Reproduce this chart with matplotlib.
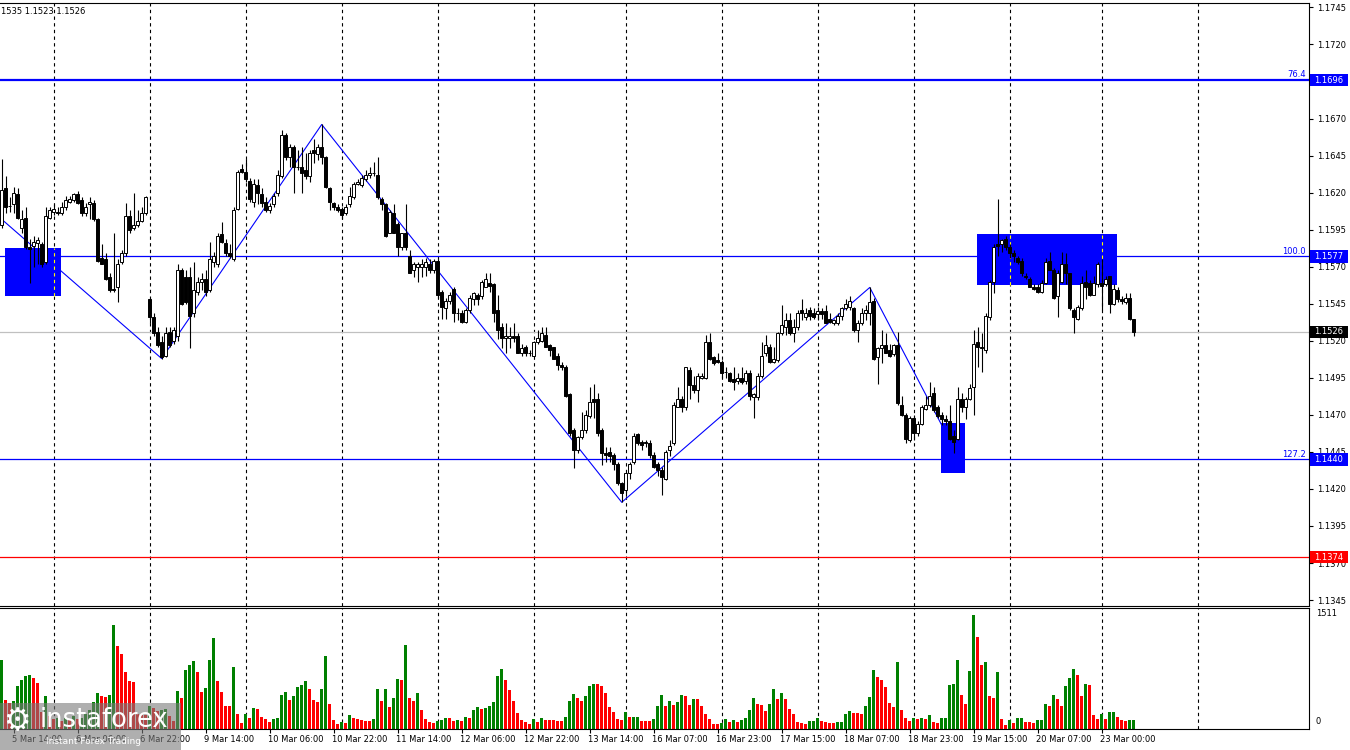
import matplotlib
matplotlib.use("Agg")
import matplotlib.pyplot as plt
import matplotlib.transforms as mtrans
from matplotlib.patches import Rectangle

W, H = 1350, 750
plt.rcParams["font.family"] = "DejaVu Sans"

# EURUSD H1, one value per bar (5 Mar 14:00 ... 23 Mar 08:00)
opens = [
    1.1598, 1.1623, 1.1611, 1.1612, 1.1619, 1.1596, 1.1603, 1.1583, 1.1584, 1.1586,
    1.1585, 1.1573, 1.1603, 1.1607, 1.1607, 1.1606, 1.1610, 1.1614, 1.1615, 1.1619,
    1.1615, 1.1606, 1.1612, 1.1613, 1.1602, 1.1576, 1.1575, 1.1563, 1.1555, 1.1556,
    1.1573, 1.1579, 1.1604, 1.1596, 1.1598, 1.1601, 1.1606, 1.1548, 1.1536, 1.1526,
    1.1519, 1.1510, 1.1526, 1.1520, 1.1523, 1.1568, 1.1563, 1.1563, 1.1539, 1.1553,
    1.1560, 1.1562, 1.1554, 1.1573, 1.1572, 1.1592, 1.1586, 1.1579, 1.1575, 1.1609,
    1.1636, 1.1634, 1.1628, 1.1614, 1.1625, 1.1619, 1.1614, 1.1608, 1.1612, 1.1620,
    1.1631, 1.1659, 1.1644, 1.1651, 1.1637, 1.1637, 1.1635, 1.1631, 1.1649, 1.1646,
    1.1651, 1.1644, 1.1623, 1.1613, 1.1610, 1.1609, 1.1606, 1.1612, 1.1617, 1.1626,
    1.1625, 1.1629, 1.1632, 1.1633, 1.1632, 1.1616, 1.1612, 1.1593, 1.1606, 1.1599,
    1.1583, 1.1593, 1.1577, 1.1568, 1.1570, 1.1570, 1.1570, 1.1572, 1.1568, 1.1574,
    1.1553, 1.1542, 1.1547, 1.1555, 1.1539, 1.1539, 1.1533, 1.1541, 1.1548, 1.1551,
    1.1550, 1.1556, 1.1559, 1.1558, 1.1541, 1.1529, 1.1522, 1.1522, 1.1523, 1.1523,
    1.1512, 1.1516, 1.1512, 1.1510, 1.1519, 1.1520, 1.1524, 1.1517, 1.1516, 1.1510,
    1.1504, 1.1502, 1.1484, 1.1460, 1.1446, 1.1455, 1.1460, 1.1469, 1.1481, 1.1481,
    1.1460, 1.1444, 1.1445, 1.1443, 1.1437, 1.1424, 1.1419, 1.1431, 1.1438, 1.1457,
    1.1452, 1.1452, 1.1451, 1.1443, 1.1437, 1.1433, 1.1427, 1.1446, 1.1451, 1.1475,
    1.1481, 1.1475, 1.1500, 1.1490, 1.1487, 1.1495, 1.1495, 1.1519, 1.1509, 1.1507,
    1.1506, 1.1499, 1.1498, 1.1494, 1.1493, 1.1495, 1.1493, 1.1498, 1.1482, 1.1482,
    1.1496, 1.1512, 1.1516, 1.1506, 1.1507, 1.1525, 1.1529, 1.1534, 1.1525, 1.1529,
    1.1541, 1.1536, 1.1541, 1.1539, 1.1538, 1.1540, 1.1540, 1.1535, 1.1532, 1.1532,
    1.1537, 1.1542, 1.1543, 1.1542, 1.1527, 1.1532, 1.1539, 1.1539, 1.1547, 1.1509,
    1.1515, 1.1517, 1.1514, 1.1511, 1.1517, 1.1477, 1.1470, 1.1453, 1.1468, 1.1458,
    1.1464, 1.1474, 1.1477, 1.1485, 1.1475, 1.1470, 1.1467, 1.1466, 1.1456, 1.1454,
    1.1481, 1.1475, 1.1481, 1.1489, 1.1519, 1.1516, 1.1514, 1.1536, 1.1560, 1.1585,
    1.1585, 1.1589, 1.1583, 1.1579, 1.1576, 1.1574, 1.1564, 1.1562, 1.1556, 1.1556,
    1.1553, 1.1559, 1.1574, 1.1568, 1.1550, 1.1560, 1.1572, 1.1566, 1.1541, 1.1535,
    1.1542, 1.1560, 1.1559, 1.1551, 1.1558, 1.1559, 1.1558, 1.1564, 1.1545, 1.1554,
    1.1548, 1.1546, 1.1549, 1.1535,
]
highs = [
    1.1643, 1.1631, 1.1617, 1.1624, 1.1623, 1.1608, 1.1610, 1.1589, 1.1591, 1.1590,
    1.1587, 1.1610, 1.1610, 1.1612, 1.1610, 1.1614, 1.1618, 1.1618, 1.1620, 1.1621,
    1.1617, 1.1613, 1.1617, 1.1615, 1.1603, 1.1585, 1.1579, 1.1566, 1.1593, 1.1575,
    1.1581, 1.1613, 1.1608, 1.1620, 1.1608, 1.1610, 1.1618, 1.1549, 1.1539, 1.1529,
    1.1523, 1.1529, 1.1529, 1.1529, 1.1572, 1.1569, 1.1568, 1.1570, 1.1573, 1.1563,
    1.1566, 1.1568, 1.1587, 1.1580, 1.1593, 1.1600, 1.1589, 1.1585, 1.1610, 1.1635,
    1.1639, 1.1643, 1.1630, 1.1629, 1.1629, 1.1623, 1.1617, 1.1613, 1.1620, 1.1635,
    1.1662, 1.1660, 1.1653, 1.1652, 1.1649, 1.1651, 1.1647, 1.1649, 1.1656, 1.1653,
    1.1666, 1.1645, 1.1624, 1.1614, 1.1612, 1.1610, 1.1612, 1.1624, 1.1627, 1.1629,
    1.1632, 1.1635, 1.1637, 1.1641, 1.1644, 1.1617, 1.1613, 1.1608, 1.1612, 1.1600,
    1.1593, 1.1612, 1.1581, 1.1573, 1.1573, 1.1575, 1.1576, 1.1575, 1.1575, 1.1575,
    1.1554, 1.1549, 1.1553, 1.1556, 1.1542, 1.1541, 1.1542, 1.1551, 1.1553, 1.1552,
    1.1561, 1.1566, 1.1566, 1.1559, 1.1551, 1.1532, 1.1532, 1.1529, 1.1532, 1.1525,
    1.1518, 1.1517, 1.1514, 1.1520, 1.1527, 1.1529, 1.1529, 1.1518, 1.1516, 1.1512,
    1.1506, 1.1504, 1.1485, 1.1461, 1.1456, 1.1472, 1.1473, 1.1489, 1.1491, 1.1485,
    1.1461, 1.1448, 1.1448, 1.1444, 1.1438, 1.1425, 1.1431, 1.1438, 1.1458, 1.1458,
    1.1453, 1.1453, 1.1453, 1.1445, 1.1438, 1.1435, 1.1446, 1.1453, 1.1479, 1.1489,
    1.1483, 1.1502, 1.1502, 1.1496, 1.1498, 1.1498, 1.1524, 1.1525, 1.1510, 1.1512,
    1.1507, 1.1502, 1.1499, 1.1502, 1.1498, 1.1502, 1.1500, 1.1500, 1.1485, 1.1498,
    1.1519, 1.1524, 1.1518, 1.1516, 1.1526, 1.1544, 1.1539, 1.1539, 1.1535, 1.1541,
    1.1548, 1.1542, 1.1543, 1.1542, 1.1543, 1.1542, 1.1544, 1.1539, 1.1535, 1.1539,
    1.1543, 1.1548, 1.1550, 1.1543, 1.1534, 1.1542, 1.1544, 1.1556, 1.1549, 1.1516,
    1.1527, 1.1525, 1.1518, 1.1518, 1.1526, 1.1483, 1.1471, 1.1469, 1.1470, 1.1466,
    1.1477, 1.1483, 1.1492, 1.1489, 1.1477, 1.1472, 1.1470, 1.1477, 1.1460, 1.1489,
    1.1485, 1.1482, 1.1491, 1.1527, 1.1529, 1.1525, 1.1539, 1.1561, 1.1585, 1.1616,
    1.1589, 1.1591, 1.1585, 1.1581, 1.1577, 1.1576, 1.1566, 1.1563, 1.1558, 1.1558,
    1.1561, 1.1576, 1.1580, 1.1569, 1.1568, 1.1580, 1.1579, 1.1566, 1.1542, 1.1544,
    1.1564, 1.1568, 1.1561, 1.1564, 1.1573, 1.1575, 1.1564, 1.1564, 1.1558, 1.1556,
    1.1550, 1.1552, 1.1552, 1.1535,
]
lows = [
    1.1596, 1.1606, 1.1607, 1.1606, 1.1602, 1.1593, 1.1582, 1.1559, 1.1570, 1.1572,
    1.1570, 1.1572, 1.1602, 1.1605, 1.1605, 1.1605, 1.1608, 1.1613, 1.1614, 1.1612,
    1.1604, 1.1604, 1.1602, 1.1601, 1.1573, 1.1572, 1.1561, 1.1553, 1.1553, 1.1546,
    1.1572, 1.1577, 1.1593, 1.1595, 1.1597, 1.1600, 1.1605, 1.1532, 1.1523, 1.1516,
    1.1508, 1.1509, 1.1516, 1.1518, 1.1520, 1.1544, 1.1545, 1.1515, 1.1536, 1.1551,
    1.1554, 1.1550, 1.1553, 1.1570, 1.1570, 1.1586, 1.1577, 1.1576, 1.1574, 1.1608,
    1.1633, 1.1627, 1.1614, 1.1610, 1.1612, 1.1610, 1.1607, 1.1606, 1.1610, 1.1618,
    1.1630, 1.1642, 1.1637, 1.1620, 1.1635, 1.1620, 1.1629, 1.1627, 1.1640, 1.1642,
    1.1639, 1.1623, 1.1608, 1.1608, 1.1607, 1.1602, 1.1605, 1.1610, 1.1616, 1.1625,
    1.1624, 1.1628, 1.1630, 1.1631, 1.1616, 1.1608, 1.1590, 1.1593, 1.1593, 1.1577,
    1.1581, 1.1581, 1.1566, 1.1563, 1.1560, 1.1563, 1.1564, 1.1566, 1.1566, 1.1549,
    1.1535, 1.1535, 1.1545, 1.1533, 1.1534, 1.1532, 1.1532, 1.1539, 1.1544, 1.1544,
    1.1548, 1.1556, 1.1553, 1.1533, 1.1521, 1.1515, 1.1512, 1.1515, 1.1519, 1.1512,
    1.1510, 1.1510, 1.1510, 1.1510, 1.1518, 1.1519, 1.1516, 1.1510, 1.1508, 1.1500,
    1.1500, 1.1482, 1.1456, 1.1434, 1.1444, 1.1454, 1.1458, 1.1468, 1.1468, 1.1456,
    1.1436, 1.1438, 1.1438, 1.1433, 1.1423, 1.1411, 1.1415, 1.1427, 1.1437, 1.1450,
    1.1446, 1.1448, 1.1441, 1.1434, 1.1429, 1.1416, 1.1426, 1.1442, 1.1450, 1.1475,
    1.1472, 1.1473, 1.1481, 1.1485, 1.1479, 1.1494, 1.1494, 1.1507, 1.1504, 1.1505,
    1.1495, 1.1495, 1.1492, 1.1487, 1.1491, 1.1491, 1.1491, 1.1480, 1.1468, 1.1480,
    1.1495, 1.1510, 1.1505, 1.1505, 1.1506, 1.1524, 1.1524, 1.1524, 1.1519, 1.1527,
    1.1534, 1.1534, 1.1534, 1.1535, 1.1534, 1.1535, 1.1532, 1.1532, 1.1531, 1.1531,
    1.1534, 1.1541, 1.1541, 1.1526, 1.1519, 1.1531, 1.1534, 1.1531, 1.1507, 1.1491,
    1.1505, 1.1512, 1.1509, 1.1510, 1.1477, 1.1469, 1.1451, 1.1452, 1.1453, 1.1456,
    1.1463, 1.1473, 1.1475, 1.1472, 1.1468, 1.1463, 1.1463, 1.1453, 1.1444, 1.1453,
    1.1472, 1.1467, 1.1480, 1.1470, 1.1502, 1.1499, 1.1512, 1.1534, 1.1552, 1.1577,
    1.1580, 1.1581, 1.1576, 1.1573, 1.1572, 1.1564, 1.1562, 1.1556, 1.1554, 1.1552,
    1.1552, 1.1558, 1.1568, 1.1548, 1.1536, 1.1559, 1.1558, 1.1541, 1.1525, 1.1534,
    1.1541, 1.1548, 1.1550, 1.1551, 1.1556, 1.1541, 1.1557, 1.1539, 1.1544, 1.1546,
    1.1545, 1.1545, 1.1534, 1.1523,
]
closes = [
    1.1622, 1.1610, 1.1611, 1.1620, 1.1603, 1.1602, 1.1583, 1.1582, 1.1587, 1.1588,
    1.1572, 1.1604, 1.1608, 1.1609, 1.1606, 1.1610, 1.1615, 1.1616, 1.1619, 1.1613,
    1.1606, 1.1610, 1.1614, 1.1602, 1.1574, 1.1572, 1.1562, 1.1554, 1.1554, 1.1572,
    1.1579, 1.1604, 1.1595, 1.1598, 1.1601, 1.1606, 1.1617, 1.1536, 1.1525, 1.1517,
    1.1509, 1.1525, 1.1517, 1.1527, 1.1568, 1.1545, 1.1546, 1.1537, 1.1554, 1.1560,
    1.1562, 1.1553, 1.1575, 1.1577, 1.1591, 1.1587, 1.1579, 1.1577, 1.1608, 1.1634,
    1.1634, 1.1629, 1.1616, 1.1626, 1.1620, 1.1613, 1.1608, 1.1611, 1.1618, 1.1632,
    1.1659, 1.1644, 1.1651, 1.1637, 1.1637, 1.1633, 1.1631, 1.1647, 1.1647, 1.1651,
    1.1644, 1.1624, 1.1614, 1.1610, 1.1608, 1.1605, 1.1610, 1.1618, 1.1626, 1.1627,
    1.1630, 1.1632, 1.1633, 1.1633, 1.1617, 1.1612, 1.1591, 1.1607, 1.1593, 1.1583,
    1.1593, 1.1583, 1.1566, 1.1572, 1.1572, 1.1572, 1.1573, 1.1568, 1.1574, 1.1551,
    1.1543, 1.1547, 1.1551, 1.1539, 1.1539, 1.1533, 1.1541, 1.1549, 1.1552, 1.1548,
    1.1560, 1.1562, 1.1557, 1.1539, 1.1527, 1.1522, 1.1523, 1.1523, 1.1522, 1.1512,
    1.1515, 1.1512, 1.1512, 1.1519, 1.1522, 1.1525, 1.1516, 1.1514, 1.1508, 1.1504,
    1.1502, 1.1483, 1.1458, 1.1446, 1.1455, 1.1460, 1.1470, 1.1479, 1.1479, 1.1458,
    1.1444, 1.1443, 1.1442, 1.1437, 1.1424, 1.1417, 1.1431, 1.1437, 1.1456, 1.1451,
    1.1450, 1.1451, 1.1443, 1.1435, 1.1433, 1.1428, 1.1445, 1.1449, 1.1477, 1.1481,
    1.1475, 1.1502, 1.1490, 1.1487, 1.1496, 1.1496, 1.1519, 1.1508, 1.1505, 1.1506,
    1.1498, 1.1499, 1.1493, 1.1492, 1.1495, 1.1492, 1.1498, 1.1483, 1.1484, 1.1496,
    1.1510, 1.1517, 1.1506, 1.1508, 1.1525, 1.1531, 1.1534, 1.1525, 1.1529, 1.1539,
    1.1539, 1.1539, 1.1537, 1.1536, 1.1540, 1.1538, 1.1532, 1.1533, 1.1534, 1.1537,
    1.1542, 1.1545, 1.1547, 1.1527, 1.1532, 1.1539, 1.1541, 1.1546, 1.1508, 1.1515,
    1.1517, 1.1512, 1.1510, 1.1517, 1.1478, 1.1470, 1.1454, 1.1468, 1.1458, 1.1464,
    1.1475, 1.1477, 1.1483, 1.1473, 1.1469, 1.1467, 1.1466, 1.1454, 1.1452, 1.1481,
    1.1475, 1.1481, 1.1488, 1.1518, 1.1516, 1.1515, 1.1537, 1.1560, 1.1583, 1.1584,
    1.1588, 1.1583, 1.1579, 1.1577, 1.1573, 1.1566, 1.1563, 1.1556, 1.1555, 1.1553,
    1.1559, 1.1573, 1.1568, 1.1549, 1.1566, 1.1572, 1.1566, 1.1542, 1.1536, 1.1543,
    1.1559, 1.1556, 1.1551, 1.1559, 1.1572, 1.1557, 1.1562, 1.1545, 1.1555, 1.1548,
    1.1547, 1.1549, 1.1535, 1.1526,
]
volumes = [
    909, 388, 339, 374, 575, 655, 709, 712, 673, 606,
    227, 441, 174, 130, 140, 107, 152, 130, 174, 130,
    152, 200, 254, 352, 477, 441, 428, 455, 1377, 1096,
    998, 762, 642, 628, 196, 190, 180, 307, 285, 241,
    254, 263, 174, 107, 508, 406, 776, 851, 896, 762,
    495, 548, 909, 1203, 642, 495, 307, 299, 816, 205,
    85, 205, 152, 285, 267, 160, 129, 94, 129, 143,
    455, 495, 388, 432, 562, 588, 642, 535, 388, 361,
    535, 963, 334, 120, 67, 94, 80, 187, 147, 129,
    120, 107, 105, 134, 530, 374, 535, 294, 415, 669,
    655, 1110, 415, 374, 481, 254, 134, 94, 80, 107,
    120, 147, 147, 107, 120, 107, 160, 147, 254, 294,
    267, 281, 299, 361, 709, 802, 655, 521, 374, 214,
    120, 94, 67, 134, 94, 147, 120, 120, 120, 107,
    107, 160, 374, 468, 415, 374, 441, 575, 602, 600,
    575, 481, 294, 227, 134, 120, 227, 160, 162, 164,
    110, 108, 106, 133, 305, 451, 305, 371, 318, 358,
    451, 437, 318, 398, 396, 305, 199, 133, 70, 66,
    80, 133, 93, 119, 93, 119, 146, 252, 411, 331,
    318, 243, 331, 530, 398, 477, 398, 265, 199, 93,
    80, 66, 106, 108, 146, 106, 93, 80, 78, 93,
    95, 199, 239, 212, 210, 200, 300, 424, 782, 689,
    649, 557, 345, 292, 888, 252, 146, 106, 146, 133,
    146, 133, 186, 93, 80, 146, 150, 583, 596, 914,
    451, 331, 769, 1511, 1219, 848, 888, 437, 411, 755,
    133, 53, 119, 80, 146, 148, 93, 92, 80, 119,
    121, 331, 305, 451, 398, 305, 570, 676, 795, 716,
    437, 596, 583, 186, 133, 199, 133, 225, 227, 159,
    119, 106, 119, 120,
]

# time axis: bar index of the dashed day separators and of the date labels
grid_bars = [13, 37, 61, 85, 109, 133, 156, 180, 204, 228, 252, 275, 299]
label_bars = [3, 19, 35, 51, 67, 83, 99, 115, 131, 147, 163, 179, 195, 211, 227, 243, 259, 275]
date_labels = ["5 Mar 14:00", "6 Mar 06:00", "6 Mar 22:00", "9 Mar 14:00", "10 Mar 06:00",
               "10 Mar 22:00", "11 Mar 14:00", "12 Mar 06:00", "12 Mar 22:00", "13 Mar 14:00",
               "16 Mar 07:00", "16 Mar 23:00", "17 Mar 15:00", "18 Mar 07:00", "18 Mar 23:00",
               "19 Mar 15:00", "20 Mar 07:00", "23 Mar 00:00"]
price_ticks = [1.1345, 1.1370, 1.1395, 1.1420, 1.1445, 1.1470, 1.1495, 1.1520, 1.1545,
               1.1570, 1.1595, 1.1620, 1.1645, 1.1670, 1.1695, 1.1720, 1.1745]
# tick that sits right under the 1.1696 price box, its label is not visible there
hidden_tick = 1.1695

# fibo levels and bid
level_prices = [1.1696, 1.1577, 1.1440, 1.1374]
level_names = ["76.4", "100.0", "127.2", ""]
level_colors = ["#0000ff", "#0000ff", "#0000ff", "#ff0000"]
bid_price = 1.1526

# zigzag swing points (bar index, price)
zz_bars = [-0.42, 40, 80, 155, 217, 235]
zz_prices = [1.1603, 1.1508, 1.1666, 1.1411, 1.1556, 1.1463]

# blue zones (bar from, bar to, low, high)
box_x0 = [0.8, 234.8, 243.8]
box_x1 = [14.8, 240.8, 278.8]
box_lo = [1.15502, 1.14307, 1.15576]
box_hi = [1.15826, 1.14645, 1.15921]

n = len(closes)
assert len(opens) == len(highs) == len(lows) == len(volumes) == n
idx = list(range(n))


def fx(px):
    return px / W


def fy(py):
    return 1 - py / H


fig = plt.figure(figsize=(W / 100, H / 100), dpi=100)
fig.patch.set_facecolor("white")
ax = fig.add_axes([0, fy(606), fx(1309), (606 - 3) / H])
axv = fig.add_axes([0, fy(729), fx(1309), (729 - 608) / H])

for a in (ax, axv):
    a.set_xlim(-0.42, 326.8)
    a.set_facecolor("white")
    a.spines["left"].set_visible(False)
    for s in ("top", "right", "bottom"):
        a.spines[s].set_linewidth(0.8)
    for g in grid_bars:
        a.axvline(g, color="black", lw=0.8, ls=(0, (3, 3)), zorder=1)

ax.set_ylim(1.13410, 1.17480)
ax.set_xticks([])
ax.yaxis.tick_right()
ax.set_yticks(price_ticks)
ax.set_yticklabels(["" if t == hidden_tick else f"{t:.4f}" for t in price_ticks])
ax.tick_params(axis="y", length=3, width=0.8, pad=3, labelsize=6, colors="black")

# horizontal levels
for lev, col in zip(level_prices, level_colors):
    ax.axhline(lev, color=col, lw=1.6 if lev == level_prices[0] else 0.9, zorder=1.5)
ax.axhline(bid_price, color="#c0c0c0", lw=0.9, zorder=1.4)

# zigzag + zones
ax.plot(zz_bars, zz_prices, color="#0000ff", lw=0.8, zorder=2)
for x0, x1, lo, hi in zip(box_x0, box_x1, box_lo, box_hi):
    ax.add_patch(Rectangle((x0, lo), x1 - x0, hi - lo, fc="#0000ff", ec="none", zorder=3))
    for g in grid_bars:
        if x0 < g < x1:
            ax.vlines(g, lo, hi, colors="#ffff00", lw=0.8, linestyles=(0, (3, 3)), zorder=3.5)

# candles
ax.vlines(idx, lows, highs, colors="black", lw=0.8, zorder=4)
body_lo = [min(o, c) for o, c in zip(opens, closes)]
body_h = [abs(c - o) for o, c in zip(opens, closes)]
body_fc = ["white" if c >= o else "black" for o, c in zip(opens, closes)]
ax.bar(idx, body_h, bottom=body_lo, width=0.75, color=body_fc, edgecolor="black",
       linewidth=0.7, zorder=5)

# volumes, green when above the previous bar
vol_col = ["#008000"] + ["#008000" if volumes[i] > volumes[i - 1] else "#ff0000"
                         for i in range(1, n)]
axv.bar(idx, volumes, width=0.7, color=vol_col, zorder=2)
axv.set_ylim(0, 1604)
axv.set_yticks([])
axv.set_xticks(label_bars)
axv.tick_params(axis="x", length=3, width=0.8, labelbottom=False)

# right-hand price boxes
ytr = mtrans.blended_transform_factory(fig.transFigure, ax.transData)
box_items = list(zip(level_prices, level_colors)) + [(bid_price, "black")]
for price, col in box_items:
    fig.add_artist(Rectangle((fx(1310), price - 0.00042), fx(38), 0.00084, transform=ytr,
                             fc=col, ec="none", zorder=5))
    fig.text(fx(1314), price, f"{price:.4f}", transform=ytr, color="white", fontsize=6,
             va="center", ha="left", zorder=6)
for price, name in zip(level_prices, level_names):
    if name:
        fig.text(fx(1306), price + 0.00005, name, transform=ytr, color="#0000ff",
                 fontsize=6, ha="right", va="bottom")

fig.text(fx(1316), fy(614), "1511", fontsize=6, va="center")
fig.text(fx(1316), fy(721), "0", fontsize=6, va="center")

# date labels under the volume window
xtr = mtrans.blended_transform_factory(axv.transData, fig.transFigure)
for b, lab in zip(label_bars, date_labels):
    fig.text(b - 0.4, fy(739), lab, transform=xtr, fontsize=6, ha="left", va="center")

fig.text(fx(1), fy(11), "1535 1.1523 1.1526", fontsize=6, va="center")

# watermark
fig.add_artist(Rectangle((0, fy(750)), fx(181), 47 / H, transform=fig.transFigure,
                         fc="#7a7a7a", ec="none", alpha=0.6, zorder=10))
fig.text(fx(3), fy(722), "\u2699", fontsize=22, color="white", va="center", zorder=11)
fig.text(fx(40), fy(720), "instaforex", fontsize=18.5, color="white", va="center", zorder=11)
fig.text(fx(46), fy(741), "Instant Forex Trading", fontsize=6.5, color="white",
         va="center", zorder=11)

fig.savefig("out.png", dpi=100, facecolor="white")
